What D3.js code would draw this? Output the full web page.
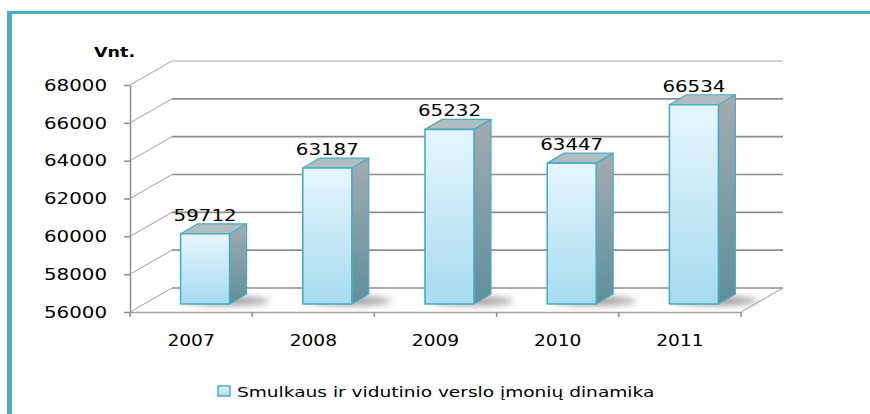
<!DOCTYPE html>
<html>
<head>
<meta charset="utf-8">
<script src="https://cdn.jsdelivr.net/npm/d3@7"></script>
<style>
  body { margin: 0; background: #fff; }
  svg { display: block; }
</style>
</head>
<body>
<div id="chart"></div>
<script>
// data
const years = ['2007', '2008', '2009', '2010', '2011'];
const values = [59712, 63187, 65232, 63447, 66534];
const yTicks = [56000, 58000, 60000, 62000, 64000, 66000, 68000];
const seriesName = 'Smulkaus ir vidutinio verslo įmonių dinamika';
const unitLabel = 'Vnt.';

const W = 870, H = 414;
const WALL = { dx: 42, dy: -24 };      // back wall offset from the front plane
const BAR_OFF = { dx: 14, dy: -8 };    // bar front face offset
const BAR_DEPTH = { dx: 17, dy: -10 };
const BAR_W = 49;
const STRETCH = 1.2;                   // the original text is wide
const FONT = '"DejaVu Sans", Verdana, sans-serif';
const GRID = '#8e8e8e';

const svg = d3.select('#chart').append('svg')
  .attr('width', W).attr('height', H)
  .style('font-family', FONT);

const defs = svg.append('defs');
const gFront = defs.append('linearGradient').attr('id', 'front')
  .attr('x1', 0).attr('y1', 0).attr('x2', 0).attr('y2', 1);
gFront.append('stop').attr('offset', 0).attr('stop-color', '#e6f6fc');
gFront.append('stop').attr('offset', 1).attr('stop-color', '#a6dbef');
const gSide = defs.append('linearGradient').attr('id', 'side')
  .attr('x1', 0).attr('y1', 0).attr('x2', 0).attr('y2', 1);
gSide.append('stop').attr('offset', 0).attr('stop-color', '#a2acb0');
gSide.append('stop').attr('offset', 1).attr('stop-color', '#5d8f9b');
defs.append('filter').attr('id', 'blur')
  .attr('x', '-50%').attr('y', '-300%').attr('width', '200%').attr('height', '700%')
  .append('feGaussianBlur').attr('stdDeviation', 3.5);

function stretch(sel, k = STRETCH) {
  sel.each(function () {
    const w = this.getComputedTextLength();
    d3.select(this).attr('textLength', w * k).attr('lengthAdjust', 'spacingAndGlyphs');
  });
}

// frame (left and top edges only)
svg.append('rect').attr('x', 7).attr('y', 11).attr('width', 5).attr('height', H - 11).attr('fill', '#4bacc6');
svg.append('rect').attr('x', 7).attr('y', 11).attr('width', W - 7).attr('height', 3).attr('fill', '#4bacc6');

const x = d3.scaleBand().domain(years).range([130, 741]);
const y = d3.scaleLinear().domain([56000, 68000]).range([312, 85]);
const [x0, x1] = x.range();

// back wall gridlines + left wall diagonals
const walls = svg.append('g').attr('fill', 'none').attr('stroke', GRID);
walls.selectAll('line.grid').data(yTicks).join('line').attr('class', 'grid')
  .attr('x1', x0 + WALL.dx).attr('x2', x1 + WALL.dx)
  .attr('y1', d => y(d) + WALL.dy).attr('y2', d => y(d) + WALL.dy)
  .attr('stroke-width', d => d === yTicks[yTicks.length - 1] ? 1 : 1.6)
  .attr('stroke', d => d === yTicks[yTicks.length - 1] ? '#a8a8a8' : GRID);
walls.selectAll('line.side').data(yTicks).join('line').attr('class', 'side')
  .attr('x1', x0).attr('x2', x0 + WALL.dx)
  .attr('y1', d => y(d)).attr('y2', d => y(d) + WALL.dy)
  .attr('stroke-width', 1).attr('stroke', '#a0a0a0');
// right floor edge
walls.append('line')
  .attr('x1', x1).attr('y1', y(56000))
  .attr('x2', x1 + WALL.dx).attr('y2', y(56000) + WALL.dy)
  .attr('stroke-width', 1).attr('stroke', '#a0a0a0');

// Y axis
const yAxis = svg.append('g').attr('transform', `translate(${x0},0)`)
  .call(d3.axisLeft(y).tickValues(yTicks).tickFormat(d3.format('d'))
    .tickSize(6).tickSizeOuter(0).tickPadding(17));
yAxis.select('.domain').attr('stroke', GRID).attr('stroke-width', 1.5);
yAxis.selectAll('.tick line').attr('stroke', GRID).attr('stroke-width', 1.5);
yAxis.selectAll('.tick text')
  .attr('fill', '#000').style('font-family', FONT).style('font-size', '16.5px')
  .call(stretch);

// X axis: labels at band centres, ticks at band edges
const xAxis = svg.append('g').attr('transform', `translate(0,${y(56000)})`)
  .call(d3.axisBottom(x).tickSize(0).tickSizeOuter(0).tickPadding(23));
xAxis.select('.domain').attr('stroke', '#a6a6a6').attr('stroke-width', 1.5);
xAxis.selectAll('.tick text')
  .attr('fill', '#000').style('font-family', FONT).style('font-size', '15.5px')
  .call(stretch);
xAxis.selectAll('line.edge').data([...years.map(d => x(d)), x1]).join('line')
  .attr('class', 'edge')
  .attr('x1', d => d).attr('x2', d => d).attr('y1', 0).attr('y2', 5)
  .attr('stroke', GRID).attr('stroke-width', 1.5);

// unit label
svg.append('text').attr('x', 94).attr('y', 57)
  .style('font-size', '14.6px').style('font-weight', 'bold')
  .text(unitLabel).call(stretch);

// bars
const bw = x.bandwidth();
const rows = years.map((d, i) => {
  const left = x(d) + bw / 2 - BAR_W / 2 + BAR_OFF.dx;
  return {
    year: d, value: values[i],
    left, right: left + BAR_W,
    top: y(values[i]) + BAR_OFF.dy,
    bottom: y(56000) + BAR_OFF.dy
  };
});

// soft floor shadows
svg.append('g').selectAll('ellipse').data(rows).join('ellipse')
  .attr('cx', d => d.right - 2)
  .attr('cy', d => d.bottom - 3)
  .attr('rx', 42).attr('ry', 4)
  .attr('fill', '#2f2f2f').attr('opacity', 0.5)
  .attr('filter', 'url(#blur)');

const bars = svg.append('g').selectAll('g').data(rows).join('g')
  .attr('stroke', '#4bacc6').attr('stroke-linejoin', 'round');
bars.append('path')
  .attr('d', d => `M${d.right},${d.top}l${BAR_DEPTH.dx},${BAR_DEPTH.dy}V${d.bottom + BAR_DEPTH.dy}L${d.right},${d.bottom}Z`)
  .attr('fill', 'url(#side)').attr('stroke-width', 1.2);
bars.append('path')
  .attr('d', d => `M${d.left},${d.top}l${BAR_DEPTH.dx},${BAR_DEPTH.dy}H${d.right + BAR_DEPTH.dx}L${d.right},${d.top}Z`)
  .attr('fill', '#b0bdc1').attr('stroke-width', 1.2);
bars.append('rect')
  .attr('x', d => d.left).attr('y', d => d.top)
  .attr('width', BAR_W).attr('height', d => d.bottom - d.top)
  .attr('fill', 'url(#front)').attr('stroke-width', 1.6);

// value labels
svg.append('g').selectAll('text').data(rows).join('text')
  .attr('x', d => (d.left + d.right) / 2)
  .attr('y', d => d.top + BAR_DEPTH.dy - 3)
  .attr('text-anchor', 'middle')
  .style('font-size', '16.5px')
  .text(d => d.value)
  .call(stretch);

// legend
const legend = svg.append('g');
legend.append('rect').attr('x', 218).attr('y', 386).attr('width', 12).attr('height', 10)
  .attr('fill', 'url(#front)').attr('stroke', '#4bacc6').attr('stroke-width', 1.5);
legend.append('text').attr('x', 237).attr('y', 397)
  .style('font-size', '14.5px')
  .text(seriesName)
  .call(stretch, 1.28);
</script>
</body>
</html>
